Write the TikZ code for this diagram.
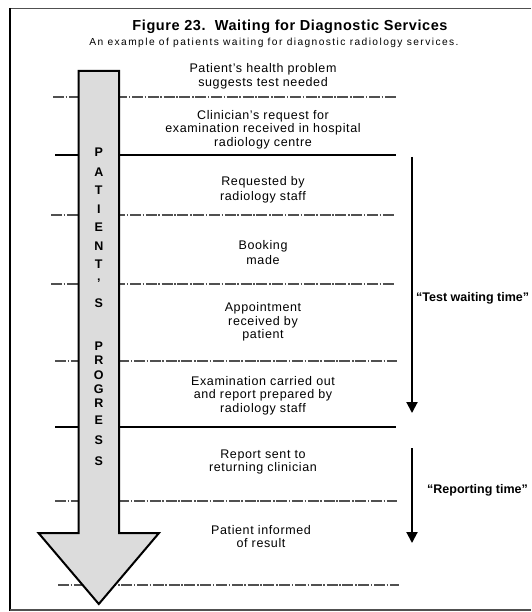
\documentclass[tikz,border=0pt]{standalone}
\usepackage{fontspec}
\setmainfont{Liberation Sans}
\usetikzlibrary{arrows.meta}
\definecolor{arrowgray}{HTML}{DCDCDC}
\definecolor{dashgray}{HTML}{505050}
\tikzset{
  stagetext/.style={align=center, font=\fontsize{12.5}{13.5}\selectfont\addfontfeature{LetterSpace=5}},
  widestage/.style={stagetext, font=\fontsize{12.5}{15.5}\selectfont\addfontfeature{LetterSpace=5}},
  dashline/.style={draw=dashgray, line width=1.4pt, dash pattern=on 11pt off 1.6pt on 1.6pt off 1.6pt},
  solidline/.style={draw=black, line width=2pt},
  timearrow/.style={line width=2pt, -{Triangle[width=11pt,length=11pt]}},
  timelabel/.style={anchor=west, inner sep=0pt, font=\fontsize{12.5}{14}\selectfont\bfseries},
  progletter/.style={font=\fontsize{12.5}{14}\selectfont\bfseries, inner sep=0pt},
}
\begin{document}
\begin{tikzpicture}[x=1pt, y=-1pt]
\useasboundingbox (0,0) rectangle (531,612);
% frame
\draw[dashgray, line width=1.5pt] (531,8.5) -- (10,8.5);
\draw[black, line width=2.6pt] (10,7.8) -- (10,610.8);
\draw[dashgray, line width=1.5pt] (10,610) -- (531,610);
% title
\node[font=\fontsize{14.5}{16}\selectfont\bfseries\addfontfeature{LetterSpace=4}] (title) at (290,27) {Figure 23.\ \ Waiting for Diagnostic Services};
\node[font=\fontsize{10.2}{12}\selectfont\addfontfeature{LetterSpace=14}] (subtitle) at (274,43) {An example of patients waiting for diagnostic radiology services.};
% separating lines
\coordinate (l1a) at (53,97);  \coordinate (l1b) at (396,97);
\coordinate (l2a) at (55,155); \coordinate (l2b) at (396,155);
\coordinate (l3a) at (51,215); \coordinate (l3b) at (395,215);
\coordinate (l4a) at (51,284); \coordinate (l4b) at (395,284);
\coordinate (l5a) at (55,361); \coordinate (l5b) at (397,361);
\coordinate (l6a) at (55,427); \coordinate (l6b) at (396,427);
\coordinate (l7a) at (55,501); \coordinate (l7b) at (397,501);
\coordinate (l8a) at (58,585); \coordinate (l8b) at (399,585);
\draw[dashline] (l1a) -- (l1b);
\draw[solidline] (l2a) -- (l2b);
\draw[dashline] (l3a) -- (l3b);
\draw[dashline] (l4a) -- (l4b);
\draw[dashline] (l5a) -- (l5b);
\draw[solidline] (l6a) -- (l6b);
\draw[dashline] (l7a) -- (l7b);
\draw[dashline] (l8a) -- (l8b);
% big arrow
\draw[fill=arrowgray, draw=black, line width=2pt, line join=miter]
  (78.5,71) -- (119,71) -- (119,533) -- (159,533) -- (98.8,604) -- (38.5,533) -- (78.5,533) -- cycle;
% letters
\foreach \ch/\yy [count=\i] in {P/152, A/172, T/190, I/209, E/227, N/246, T/264, ’/283, S/303,
  P/346, R/360, O/375, G/389, R/403, E/420, S/440, S/461} {
  \node[progletter] (pl\i) at (98.8,\yy) {\ch};
}
% stage texts
\node[stagetext] (s1) at (263,76.5) {Patient’s health problem\\suggests test needed};
\node[stagetext] (s2) at (263,129.5) {Clinician’s request for\\examination received in hospital\\radiology centre};
\node[widestage] (s3) at (263,190) {Requested by\\radiology staff};
\node[widestage] (s4) at (263,252.5) {Booking\\made};
\node[stagetext] (s5) at (263,322) {Appointment\\received by\\patient};
\node[stagetext] (s6) at (263,395.5) {Examination carried out\\and report prepared by\\radiology staff};
\node[stagetext] (s7) at (263,462) {Report sent to\\returning clinician};
\node[stagetext] (s8) at (261,536.5) {Patient informed\\of result};
% time arrows
\coordinate (ta1) at (412,157);
\coordinate (tb1) at (412,413);
\coordinate (ta2) at (412,448);
\coordinate (tb2) at (412,543);
\draw[timearrow] (ta1) -- (tb1);
\draw[timearrow] (ta2) -- (tb2);
\node[timelabel] (lab1) at (416,298) {“Test waiting time”};
\node[timelabel] (lab2) at (427,490) {“Reporting time”};
\end{tikzpicture}
\end{document}
